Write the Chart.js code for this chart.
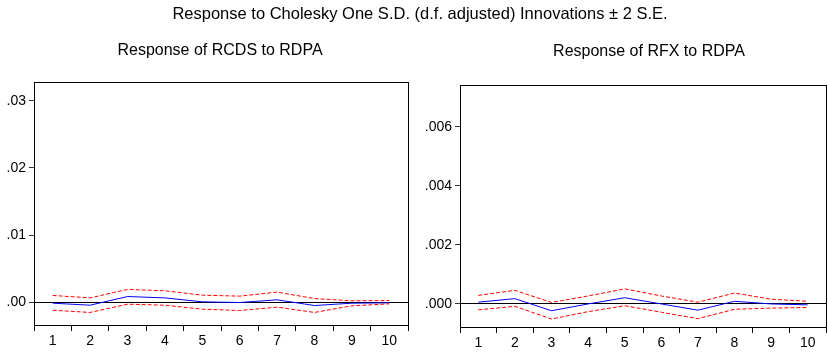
<!DOCTYPE html>
<html>
<head>
<meta charset="utf-8">
<script src="https://cdn.jsdelivr.net/npm/chart.js@4"></script>
<style>
  html, body { margin: 0; padding: 0; background: #fff; }
  #wrap { position: relative; width: 828px; height: 355px; }
  #wrap canvas { position: absolute; left: 0; top: 0; }
</style>
</head>
<body>
<div id="wrap">
  <canvas id="chartL" width="828" height="355"></canvas>
  <canvas id="chartR" width="828" height="355"></canvas>
</div>
<script>
// periods
var periods = ["1", "2", "3", "4", "5", "6", "7", "8", "9", "10"];

// Response of RCDS to RDPA
var rcdsResp  = [-0.00015, -0.00045, 0.00084, 0.00064, 0.00005, -0.00005, 0.00035, -0.0005, -0.00015, -0.0001];
var rcdsUpper = [0.001, 0.00064, 0.0019, 0.0017, 0.00104, 0.0009, 0.0015, 0.00054, 0.0002, 0.00025];
var rcdsLower = [-0.0012, -0.00153, -0.0003, -0.00045, -0.00104, -0.00124, -0.00074, -0.00153, -0.00054, -0.00025];
var rcdsTicks = [0, 0.01, 0.02, 0.03];

// Response of RFX to RDPA
var rfxResp  = [0.00006, 0.00018, -0.00023, 0.0, 0.00021, 0.0, -0.00021, 0.00009, 0.0, -0.00003];
var rfxUpper = [0.00029, 0.00046, 0.00005, 0.00027, 0.00051, 0.00027, 0.00006, 0.00037, 0.00016, 0.00009];
var rfxLower = [-0.0002, -0.00008, -0.00051, -0.00026, -0.00006, -0.00028, -0.0005, -0.00018, -0.00014, -0.00012];
var rfxTicks = [0, 0.002, 0.004, 0.006];

var mainTitle = "Response to Cholesky One S.D. (d.f. adjusted) Innovations \u00b1 2 S.E.";

var FONT = "'Liberation Sans', Arial, sans-serif";

// draws the frame round the plot and the titles
var framePlugin = {
    id: 'frame',
    afterDraw: function (chart, args, opts) {
        var ctx = chart.ctx, a = chart.chartArea;
        ctx.save();
        ctx.strokeStyle = '#000';
        ctx.lineWidth = 1;
        ctx.strokeRect(Math.round(a.left) + 0.5, Math.round(a.top) + 0.5,
                       Math.round(a.right - a.left), Math.round(a.bottom - a.top));
        ctx.fillStyle = '#000';
        ctx.textAlign = 'center';
        ctx.textBaseline = 'middle';
        (opts.texts || []).forEach(function (t) {
            ctx.font = t.size + 'px ' + FONT;
            ctx.fillText(t.text, t.x, t.y);
        });
        ctx.restore();
    }
};

function makeChart(id, resp, upper, lower, ticks, digits, yMin, yMax, pad, yWidth, xHeight, texts) {
    var ctx = document.getElementById(id).getContext('2d');
    return new Chart(ctx, {
        type: 'line',
        data: {
            labels: periods,
            datasets: [
                { data: upper, borderColor: '#ff0000', borderWidth: 1, borderDash: [4, 2], pointRadius: 0, tension: 0, fill: false },
                { data: lower, borderColor: '#ff0000', borderWidth: 1, borderDash: [4, 2], pointRadius: 0, tension: 0, fill: false },
                { data: resp, borderColor: '#0000ff', borderWidth: 1, pointRadius: 0, tension: 0, fill: false }
            ]
        },
        options: {
            responsive: false,
            animation: false,
            events: [],
            layout: { padding: pad },
            plugins: {
                legend: { display: false },
                tooltip: { enabled: false },
                frame: { texts: texts }
            },
            scales: {
                x: {
                    type: 'category',
                    offset: true,
                    border: { display: true, color: '#000' },
                    grid: { offset: true, drawOnChartArea: false, tickLength: 6, tickColor: '#000' },
                    ticks: { color: '#000', font: { family: FONT, size: 14 }, padding: 2, maxRotation: 0 },
                    afterFit: function (s) { s.height = xHeight; }
                },
                y: {
                    min: yMin,
                    max: yMax,
                    border: { display: true, color: '#000' },
                    grid: {
                        color: function (c) { return c.tick && c.tick.value === 0 ? '#000' : 'rgba(0,0,0,0)'; },
                        tickColor: '#333',
                        tickLength: 5
                    },
                    ticks: {
                        color: '#000',
                        font: { family: FONT, size: 14 },
                        padding: 3,
                        callback: function (v) { return v.toFixed(digits).replace(/^0/, ''); }
                    },
                    afterBuildTicks: function (s) { s.ticks = ticks.map(function (v) { return { value: v }; }); },
                    afterFit: function (s) { s.width = yWidth; }
                }
            }
        },
        plugins: [framePlugin]
    });
}

makeChart('chartL', rcdsResp, rcdsUpper, rcdsLower, rcdsTicks, 2, -0.0034, 0.0328,
    { top: 82, right: 420, bottom: 0, left: 0 }, 34, 30,
    [
        { text: mainTitle, x: 420, y: 14, size: 16.5 },
        { text: "Response of RCDS to RDPA", x: 220, y: 50.5, size: 16 }
    ]);

makeChart('chartR', rfxResp, rfxUpper, rfxLower, rfxTicks, 3, -0.00078, 0.00741,
    { top: 85, right: 2, bottom: 0, left: 424 }, 36, 28,
    [
        { text: "Response of RFX to RDPA", x: 649, y: 51.5, size: 16 }
    ]);
</script>
</body>
</html>
